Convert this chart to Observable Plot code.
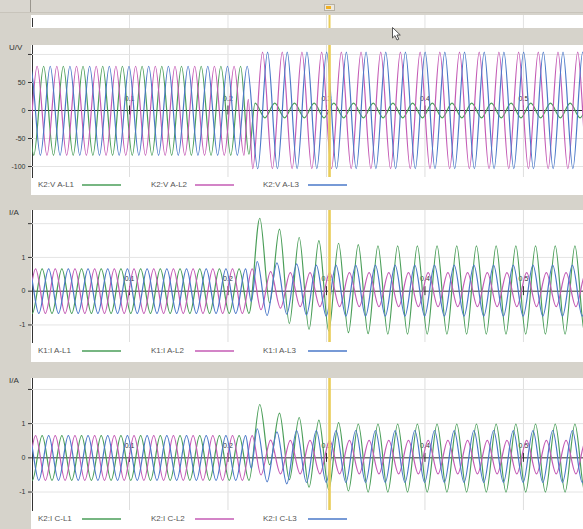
<!DOCTYPE html>
<html><head><meta charset="utf-8">
<script src="https://cdn.jsdelivr.net/npm/d3@7"></script>
<script src="https://cdn.jsdelivr.net/npm/@observablehq/plot@0.6"></script>
<style>
html,body{margin:0;padding:0;background:#d6d3cb;}
#root{position:relative;width:583px;height:529px;overflow:hidden;font-family:"Liberation Sans",Arial,sans-serif;background:#d6d3cb;}
.abs{position:absolute;}
.white{position:absolute;background:#fff;}
.unit{position:absolute;font-size:8px;color:#333;line-height:10px;}
.leg{position:absolute;font-size:8px;color:#555;white-space:nowrap;line-height:10px;}
.panel svg{display:block;}
</style></head><body><div id="root"></div>
<script>
// ---------- shared values ----------
const tStart = 0.0015, tEnd = 0.561;
const period = 0.02;               // 50 Hz
const cursorTime = 0.3031;
const xTickValues = [0.1, 0.2, 0.3, 0.4, 0.5];
const xTickLabels = ["0.1", "0.2", "0.3", "0.4", "0.5"];
const phaseColors = ["#4a9e58", "#c45bb5", "#4a78c8"];

// ---------- panel 1 : voltage K2:V A ----------
const vNames = ["K2:V A-L1", "K2:V A-L2", "K2:V A-L3"];
const vUnit = "U/V";
const vTicks = [-100, -50, 0, 50, 100];
const vTickLabels = ["-100", "-50", "0", "50", ""];
const vFaultTime = 0.2225;
const vPrePeakTime = [0.0128, 0.0062, 0.0195];
const vPrePeak = [79, 79, 79];
const vPreTrough = [-80, -80, -80];
const vTransientL1 = [[0.2212, -78], [0.2275, 13]];
const vTransientL2 = [[0.2206, 20], [0.2251, -104]];
const vTransientL3 = [[0.2302, -104]];
const vPostPeak = [13, 104, 104];
const vPostTrough = [-13, -104, -104];

// ---------- panel 2 : current K1:I A ----------
const aNames = ["K1:I A-L1", "K1:I A-L2", "K1:I A-L3"];
const aUnit = "I/A";
const aTicks = [-1, 0, 1, 2];
const aTickLabels = ["-1", "0", "1", ""];
const aFaultTime = 0.2252;
const aPrePeakTime = [0.0113, 0.0046, 0.0179];
const aPrePeak = [0.66, 0.66, 0.66];
const aPreTrough = [-0.66, -0.66, -0.66];
const aTransientL1 = [[0.2323, 2.16], [0.2423, -0.35], [0.2523, 1.84], [0.2623, -0.96], [0.2723, 1.59], [0.2823, -1.13],
                      [0.2923, 1.50], [0.3023, -1.18], [0.3123, 1.42], [0.3223, -1.23], [0.3323, 1.38], [0.3423, -1.26]];
const aTransientL2 = [[0.2335, -0.55], [0.2433, 0.58], [0.2533, -0.50]];
const aTransientL3 = [[0.2236, -0.30], [0.2297, 0.88], [0.2397, -0.72], [0.2497, 0.84], [0.2597, -0.68], [0.2697, 0.81], [0.2797, -0.70]];
const aPostPeak = [1.34, 0.55, 0.77];
const aPostTrough = [-1.27, -0.46, -0.74];

// ---------- panel 3 : current K2:I C ----------
const cNames = ["K2:I C-L1", "K2:I C-L2", "K2:I C-L3"];
const cUnit = "I/A";
const cTicks = [-1, 0, 1, 2];
const cTickLabels = ["-1", "0", "1", ""];
const cFaultTime = 0.2252;
const cPrePeakTime = [0.0113, 0.0046, 0.0179];
const cPrePeak = [0.65, 0.65, 0.65];
const cPreTrough = [-0.66, -0.66, -0.66];
const cTransientL1 = [[0.2323, 1.56], [0.2423, -0.20], [0.2523, 1.31], [0.2623, -0.64], [0.2723, 1.18], [0.2823, -0.86],
                      [0.2923, 1.10], [0.3023, -0.93], [0.3123, 1.03], [0.3223, -0.97]];
const cTransientL2 = [[0.2335, -0.50], [0.2433, 0.52]];
const cTransientL3 = [[0.2236, -0.30], [0.2297, 0.85], [0.2397, -0.70], [0.2497, 0.76], [0.2597, -0.76]];
const cPostPeak = [0.99, 0.51, 0.80];
const cPostTrough = [-1.00, -0.47, -0.72];

// ---------- build extrema lists (peaks/troughs) ----------
function buildWave(name, prePeakTime, prePeak, preTrough, faultTime, transient, postPeak, postTrough) {
  const half = period / 2;
  const pts = [];
  let k = Math.floor((tStart - 2 * half - prePeakTime) / half);
  for (;; k++) {
    const t = prePeakTime + k * half;
    if (t >= faultTime) break;
    const even = ((k % 2) + 2) % 2 === 0;
    pts.push({series: name, t, v: even ? prePeak : preTrough});
  }
  for (const [t, v] of transient) {
    const last = pts[pts.length - 1];
    if (last && Math.sign(last.v) === Math.sign(v)) pts.pop();
    pts.push({series: name, t, v});
  }
  const last = pts[pts.length - 1];
  let up = last.v < 0;
  for (let j = 1; last.t + j * half <= tEnd + 2 * half; j++) {
    pts.push({series: name, t: last.t + j * half, v: up ? postPeak : postTrough});
    up = !up;
  }
  return pts;
}

function buildPanel(names, prePeakTime, prePeak, preTrough, faultTime, transients, postPeak, postTrough) {
  return names.flatMap((n, i) =>
    buildWave(n, prePeakTime[i], prePeak[i], preTrough[i], faultTime, transients[i], postPeak[i], postTrough[i]));
}

const vData = buildPanel(vNames, vPrePeakTime, vPrePeak, vPreTrough, vFaultTime, [vTransientL1, vTransientL2, vTransientL3], vPostPeak, vPostTrough);
const aData = buildPanel(aNames, aPrePeakTime, aPrePeak, aPreTrough, aFaultTime, [aTransientL1, aTransientL2, aTransientL3], aPostPeak, aPostTrough);
const cData = buildPanel(cNames, cPrePeakTime, cPrePeak, cPreTrough, cFaultTime, [cTransientL1, cTransientL2, cTransientL3], cPostPeak, cPostTrough);

// ---------- drawing ----------
const root = document.getElementById("root");
const ns = "http://www.w3.org/2000/svg";
function el(tag, cls, style, text) {
  const e = document.createElement(tag);
  if (cls) e.className = cls;
  Object.assign(e.style, style);
  if (text != null) e.textContent = text;
  root.appendChild(e);
  return e;
}
const cursorColor = "#e9cd5a";

function makePanel({names, data, yDomain, yTicks, yTickLabels, height, marginBottom}) {
  const pxPerUnit = (height - marginBottom) / (yDomain[1] - yDomain[0]);
  const tickHalf = 4.5 / pxPerUnit;
  const grid = yTicks.filter(d => d !== 0);
  return Plot.plot({
    width: 583, height, marginLeft: 32, marginRight: 0, marginTop: 0, marginBottom,
    style: {background: "transparent", fontFamily: "Liberation Sans, Arial, sans-serif", fontSize: "7px", color: "#333", overflow: "visible"},
    x: {domain: [tStart, tEnd], axis: null},
    y: {domain: yDomain, ticks: yTicks, tickFormat: d => yTickLabels[yTicks.indexOf(d)], tickSize: 4, tickPadding: 3, line: true, label: null},
    color: {domain: names, range: phaseColors},
    marks: [
      Plot.ruleX(xTickValues, {stroke: "#dedede"}),
      Plot.ruleY(grid, {stroke: "#e4e4e4"}),
      Plot.ruleY([0], {stroke: "#2a2a2a"}),
      Plot.ruleX(xTickValues, {y1: -tickHalf, y2: tickHalf, stroke: "#2a2a2a"}),
      Plot.text(xTickValues, {x: d => d, y: 0, dy: -12, text: (d, i) => xTickLabels[i], fill: "#333"}),
      Plot.line(data, {x: "t", y: "v", z: "series", stroke: "series", curve: "monotone-x", clip: true, strokeWidth: 1.2}),
      Plot.ruleX([cursorTime], {stroke: cursorColor, strokeWidth: 2.6})
    ]
  });
}

// top overview strip
el("div", "abs", {left: "0px", top: "0px", width: "583px", height: "12px", background: "#d9d6cf", borderBottom: "1px solid #c8c4bb"});
el("div", "abs", {left: "30px", top: "0px", width: "1px", height: "12px", background: "#9a968e"});
el("div", "white", {left: "31px", top: "15px", width: "552px", height: "13px"});
const strip = Plot.plot({
  width: 583, height: 13, marginLeft: 32, marginRight: 0, marginTop: 0, marginBottom: 0,
  style: {background: "transparent", overflow: "visible"},
  x: {domain: [tStart, tEnd], axis: null},
  marks: [
    Plot.ruleX(xTickValues, {stroke: "#e2e2e2"}),
    Plot.ruleX([tStart], {stroke: "#333", insetTop: 3, insetBottom: 1}),
    Plot.ruleX([cursorTime], {stroke: cursorColor, strokeWidth: 2})
  ]
});
const stripWrap = el("div", "abs panel", {left: "0px", top: "15px"});
stripWrap.appendChild(strip);
const cx = strip.scale("x").apply(cursorTime);
el("div", "abs", {left: (cx - 5.5) + "px", top: "4px", width: "9px", height: "5px", background: "#ebe7dd", border: "1px solid #b5b0a5"});
el("div", "abs", {left: (cx - 3) + "px", top: "5.5px", width: "5px", height: "3px", background: "#f0b025"});

// panels
const panels = [
  {names: vNames, data: vData, unit: vUnit, yDomain: [-119.6, 116], yTicks: vTicks, yTickLabels: vTickLabels, top: 45, height: 150, marginBottom: 18},
  {names: aNames, data: aData, unit: aUnit, yDomain: [-1.52, 2.39], yTicks: aTicks, yTickLabels: aTickLabels, top: 210, height: 152, marginBottom: 20},
  {names: cNames, data: cData, unit: cUnit, yDomain: [-1.54, 2.32], yTicks: cTicks, yTickLabels: cTickLabels, top: 378, height: 151, marginBottom: 19}
];
const legendLeft = [38, 151, 263];
const legendLineLeft = [82, 195, 308];
for (const p of panels) {
  el("div", "white", {left: "31px", top: p.top + "px", width: "552px", height: p.height + "px"});
  const svg = makePanel(p);
  const wrap = el("div", "abs panel", {left: "0px", top: p.top + "px"});
  wrap.appendChild(svg);
  el("div", "unit", {left: "9px", top: (p.top - 2) + "px"}, p.unit);
  const ly = p.top + p.height - p.marginBottom / 2 - 1;
  p.names.forEach((n, i) => {
    el("div", "leg", {left: legendLeft[i] + "px", top: (ly - 5) + "px"}, n);
    const s = document.createElementNS(ns, "svg");
    s.setAttribute("width", "40"); s.setAttribute("height", "4");
    s.style.position = "absolute"; s.style.left = legendLineLeft[i] + "px"; s.style.top = (ly - 2) + "px";
    const ln = document.createElementNS(ns, "line");
    ln.setAttribute("x1", "0"); ln.setAttribute("x2", "39"); ln.setAttribute("y1", "2"); ln.setAttribute("y2", "2");
    ln.setAttribute("stroke", phaseColors[i]); ln.setAttribute("stroke-width", "1.3");
    s.appendChild(ln);
    root.appendChild(s);
  });
}

// mouse pointer
const ptr = document.createElementNS(ns, "svg");
ptr.setAttribute("width", "12"); ptr.setAttribute("height", "16");
ptr.style.position = "absolute"; ptr.style.left = "392px"; ptr.style.top = "27px";
ptr.innerHTML = '<path d="M0.5,0.5 L0.5,11 L3,8.6 L5,13 L6.8,12.2 L4.9,8 L8.3,8 Z" fill="#fff" stroke="#444" stroke-width="0.9"/>';
root.appendChild(ptr);
</script></body></html>
